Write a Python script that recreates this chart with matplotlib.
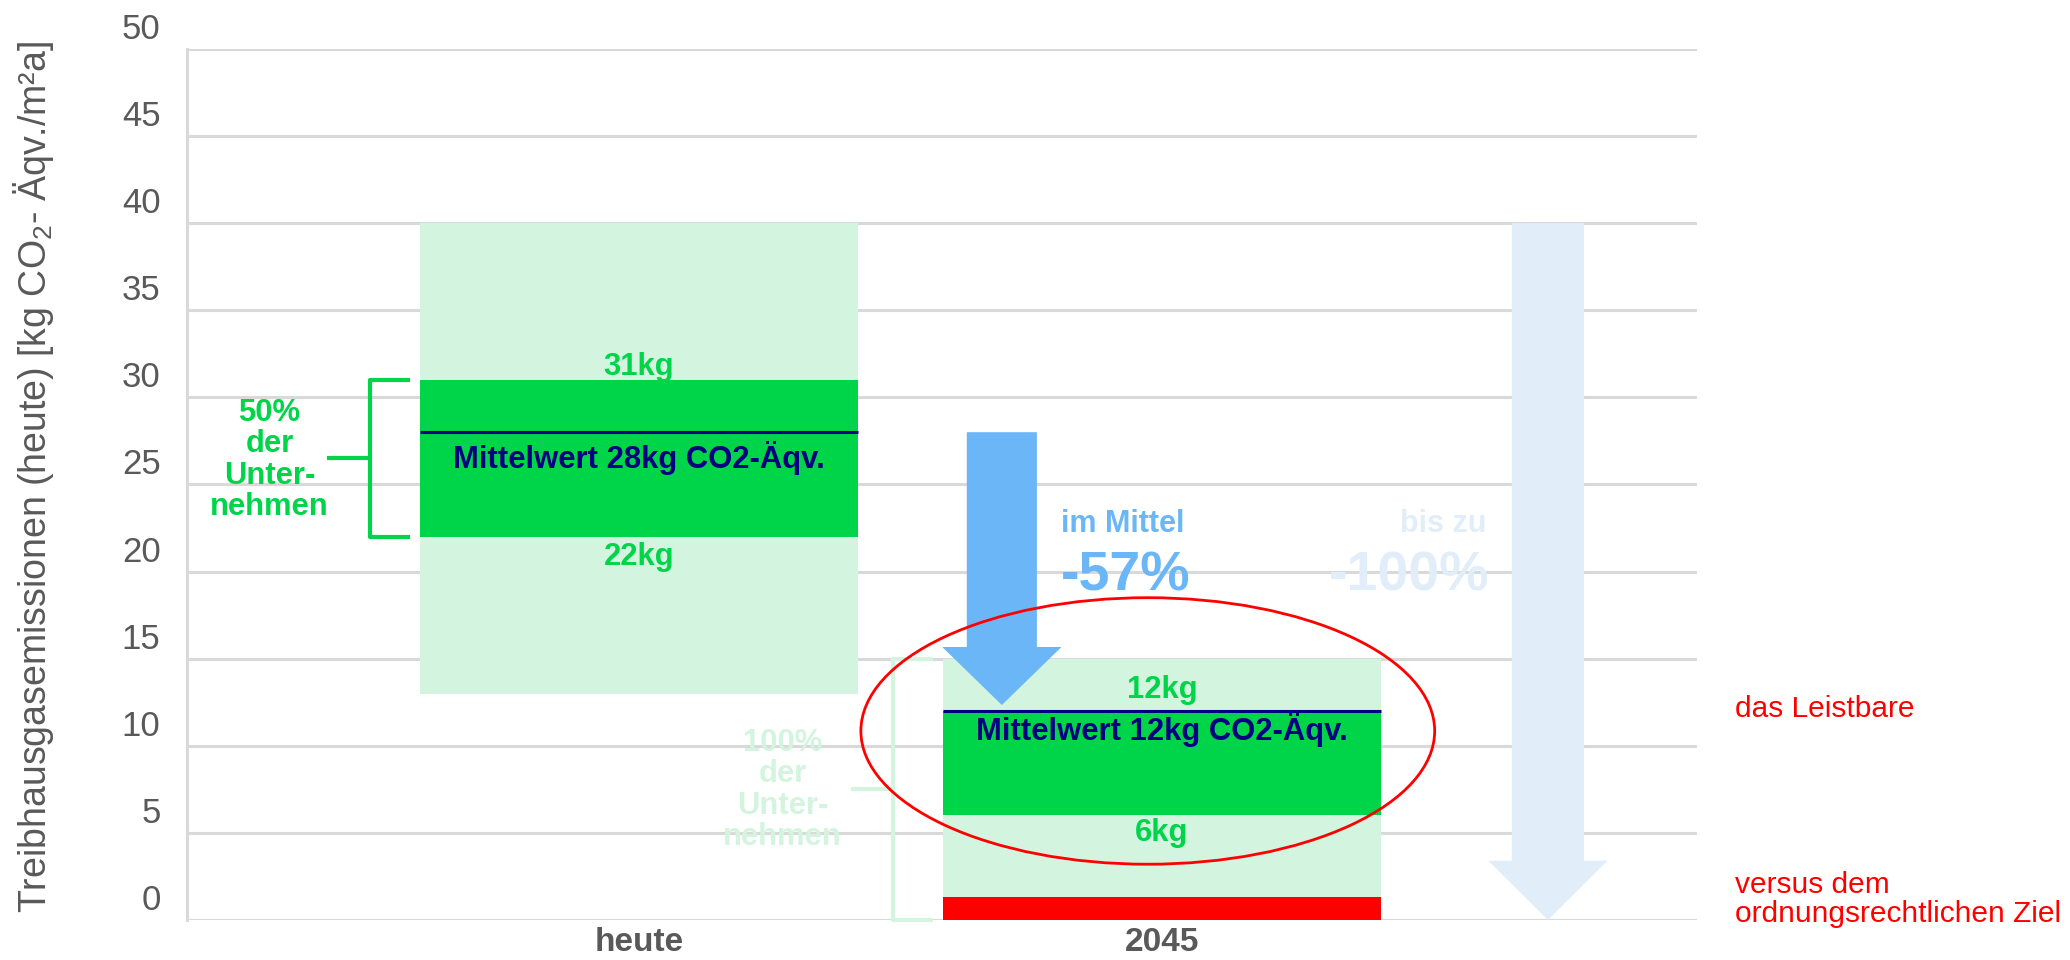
import matplotlib.pyplot as plt
import matplotlib.transforms as mtransforms
from matplotlib.patches import Ellipse, FancyArrow

plt.rcParams['font.family'] = ['Liberation Sans', 'DejaVu Sans']
plt.rcParams['mathtext.fontset'] = 'custom'
plt.rcParams['mathtext.rm'] = 'Liberation Sans'

# data
categories = ['heute', '2045']
x_pos = [0, 1]
range_low = [13, 0]        # helles Band (Spannweite)
range_high = [40, 15]
q_low = [22, 6]            # 50% der Unternehmen
q_high = [31, 12]
mean_val = [28, 12]
target_2045 = 1.3          # ordnungsrechtliches Ziel
yticks = [0, 5, 10, 15, 20, 25, 30, 35, 40, 45, 50]

# colours
light_green = '#d3f4de'
dark_green = '#00d54a'
navy = '#000080'
blue = '#6bb6f7'
light_blue = '#e1eefa'
grey_txt = '#595959'
grid_c = '#d9d9d9'

fig = plt.figure(figsize=(20.7, 9.6), dpi=100)
ax = fig.add_axes([0.0903, 0.0417, 0.7295, 0.9073])
ax.set_xlim(-0.864, 2.023)
ax.set_ylim(0, 50)

bar_w = 0.8375
ax.bar(x_pos, [h - l for h, l in zip(range_high, range_low)], bottom=range_low,
       width=bar_w, color=light_green, zorder=2)
ax.bar(x_pos, [h - l for h, l in zip(q_high, q_low)], bottom=q_low,
       width=bar_w, color=dark_green, zorder=3)
ax.bar(x_pos[1], target_2045, width=bar_w, color='#ff0000', zorder=3)
for x, m in zip(x_pos, mean_val):
    ax.plot([x - bar_w / 2, x + bar_w / 2], [m, m], color=navy, lw=2.2, zorder=4,
            solid_capstyle='butt')

# labels on the bars
fs = 22.3
ax.text(0, 31.29, '31kg', ha='center', va='baseline', color=dark_green,
        fontsize=fs, fontweight='bold', zorder=5)
ax.text(0, 20.38, '22kg', ha='center', va='baseline', color=dark_green,
        fontsize=fs, fontweight='bold', zorder=5)
ax.text(0, 25.95, 'Mittelwert 28kg CO2-Äqv.', ha='center', va='baseline',
        color=navy, fontsize=fs, fontweight='bold', zorder=5)
ax.text(1, 12.74, '12kg', ha='center', va='baseline', color=dark_green,
        fontsize=fs, fontweight='bold', zorder=5)
ax.text(1, 4.55, '6kg', ha='center', va='baseline', color=dark_green,
        fontsize=fs, fontweight='bold', zorder=5)
ax.text(1, 10.33, 'Mittelwert 12kg CO2-Äqv.', ha='center', va='baseline',
        color=navy, fontsize=fs, fontweight='bold', zorder=5)


# brackets
def bracket(xv, xe, xt, y0, y1, color):
    ym = (y0 + y1) / 2
    ax.plot([xe, xv, xv, xe], [y1, y1, y0, y0], color=color, lw=3,
            solid_joinstyle='round', solid_capstyle='butt', zorder=4, clip_on=False)
    ax.plot([xt, xv], [ym, ym], color=color, lw=3, solid_capstyle='butt',
            zorder=4, clip_on=False)


bracket(-0.514, -0.438, -0.597, q_low[0], q_high[0], dark_green)
ax.text(-0.706, 26.4, '50%\nder\nUnter-\nnehmen', ha='center', va='center',
        multialignment='center', linespacing=1.07, color=dark_green,
        fontsize=fs, fontweight='bold', zorder=5)
bracket(0.486, 0.562, 0.405, range_low[1], range_high[1], light_green)
ax.text(0.275, 7.46, '100%\nder\nUnter-\nnehmen', ha='center', va='center',
        multialignment='center', linespacing=1.07, color=light_green,
        fontsize=fs, fontweight='bold', zorder=5)

# arrows
ax.add_patch(FancyArrow(0.694, 28.0, 0, 12.34 - 28.0, width=0.134, head_width=0.228,
                        head_length=3.33, length_includes_head=True,
                        color=blue, lw=0, zorder=6))
ax.add_patch(FancyArrow(1.738, 40.0, 0, -40.0, width=0.138, head_width=0.228,
                        head_length=3.4, length_includes_head=True,
                        color=light_blue, lw=0, zorder=6, clip_on=False))

ax.text(0.807, 22.27, 'im Mittel', ha='left', va='baseline', color=blue,
        fontsize=22, fontweight='bold', zorder=5)
ax.text(0.807, 18.94, '-57%', ha='left', va='baseline', color=blue,
        fontsize=40, fontweight='bold', zorder=5)
ax.text(1.621, 22.27, 'bis zu', ha='right', va='baseline', color=light_blue,
        fontsize=22, fontweight='bold', zorder=5)
ax.text(1.627, 18.94, '-100%', ha='right', va='baseline', color=light_blue,
        fontsize=40, fontweight='bold', zorder=5)

# red ellipse
ax.add_patch(Ellipse((0.973, 10.85), 1.097, 15.3, fill=False, edgecolor='#ff0000',
                     lw=2, zorder=7))

# side notes
ax.text(2.096, 11.65, 'das Leistbare', ha='left', va='baseline', color='#ff0000',
        fontsize=21.5, clip_on=False)
ax.text(2.096, 1.55, 'versus dem', ha='left', va='baseline', color='#ff0000',
        fontsize=21.5, clip_on=False)
ax.text(2.096, -0.1, 'ordnungsrechtlichen Ziel', ha='left', va='baseline',
        color='#ff0000', fontsize=21.5, clip_on=False)

# axes styling
ax.set_yticks(yticks)
ax.set_xticks(x_pos)
ax.set_xticklabels(categories, fontsize=24, fontweight='bold', color=grey_txt)
ax.tick_params(axis='x', length=0, pad=5)
ax.tick_params(axis='y', length=0, pad=19, labelsize=25, labelcolor=grey_txt)
shift = mtransforms.ScaledTranslation(0, 0.23, fig.dpi_scale_trans)
for lab in ax.get_yticklabels():
    lab.set_transform(lab.get_transform() + shift)
ax.grid(axis='y', color=grid_c, lw=2.2)
ax.set_axisbelow(True)
for s in ['top', 'right', 'bottom']:
    ax.spines[s].set_visible(False)
ax.spines['left'].set_color(grid_c)
ax.spines['left'].set_linewidth(2.2)

fig.text(0.016, 0.503, 'Treibhausgasemissionen (heute) [kg CO$_2$- Äqv./m²a]',
         rotation=90, ha='center', va='center', fontsize=27, color=grey_txt)

fig.savefig('out.png', dpi=100)
